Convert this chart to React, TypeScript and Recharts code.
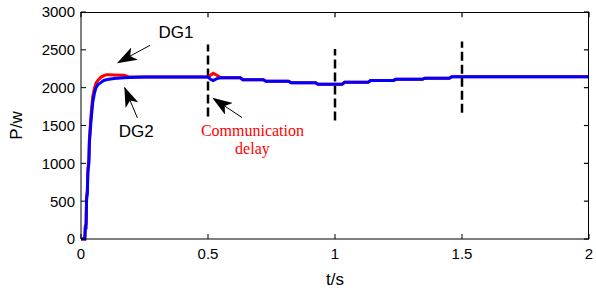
import React from 'react';
import { LineChart, Line, XAxis, YAxis, ReferenceLine, ReferenceDot } from 'recharts';

// time axis shared by both DG curves (s)
const time = [
  0, 0.015, 0.017, 0.02, 0.022, 0.025, 0.027, 0.031, 0.033, 0.039, 0.046, 0.053, 0.059, 0.067,
  0.079, 0.09, 0.1, 0.11, 0.13, 0.17, 0.19, 0.25, 0.5, 0.51, 0.52, 0.535, 0.55, 0.627, 0.637,
  0.718, 0.728, 0.817, 0.827, 0.923, 0.933, 1.028, 1.038, 1.13, 1.14, 1.23, 1.24, 1.344, 1.354,
  1.45, 1.46, 2,
];
const dg1 = [
  0, 0, 170, 200, 560, 650, 920, 1060, 1320, 1620, 1880, 1990, 2060, 2100,
  2140, 2160, 2170, 2170, 2168, 2165, 2140, 2140, 2140, 2165, 2190, 2165, 2130, 2130, 2105,
  2105, 2085, 2085, 2065, 2065, 2045, 2045, 2070, 2070, 2095, 2095, 2110, 2110, 2125,
  2125, 2145, 2145,
];
const dg2 = [
  0, 0, 150, 150, 520, 600, 875, 1000, 1270, 1540, 1800, 1930, 2000, 2040,
  2070, 2095, 2105, 2110, 2120, 2130, 2135, 2140, 2140, 2110, 2095, 2120, 2130, 2130, 2105,
  2105, 2085, 2085, 2065, 2065, 2045, 2045, 2070, 2070, 2095, 2095, 2110, 2110, 2125,
  2125, 2145, 2145,
];

const xTicks = [0, 0.5, 1, 1.5, 2];
const yTicks = [0, 500, 1000, 1500, 2000, 2500, 3000];
const xMax = 2;
const yMax = 3000;

// dashed markers: time, lower and upper power
const delayTimes = [0.5, 1, 1.5];
const delayLow = [1620, 1565, 1670];
const delayHigh = [2570, 2510, 2610];

// arrows: tail -> head, in (t, P)
const arrowTail = [[0.272, 2560], [0.222, 1600], [0.634, 1605]];
const arrowHead = [[0.145, 2330], [0.172, 2000], [0.52, 1860]];

const noteText = ['DG1', 'DG2', 'Communication', 'delay'];
const notePos = [[0.374, 2730], [0.217, 1420], [0.675, 1440], [0.675, 1200]];

const data = time.map((t, i) => ({ t, dg1: dg1[i], dg2: dg2[i] }));

const sans = 'Liberation Sans, Arial, sans-serif';
const serif = 'Liberation Serif, Times New Roman, serif';

const margin = { top: 12, right: 7, bottom: 22, left: 21 };
const yAxisWidth = 60;
const xAxisHeight = 30;
const W = 596;
const H = 291;

const BottomTick = (props: any) => {
  const { x, y, payload } = props;
  return (
    <g>
      <line x1={x} x2={x} y1={y} y2={y - 5} stroke="#000" />
      <text x={x} y={y + 20} textAnchor="middle" fontSize={15} fontFamily={sans} fill="#000">
        {payload.value}
      </text>
    </g>
  );
};

const LeftTick = (props: any) => {
  const { x, y, payload } = props;
  return (
    <g>
      <line x1={x} x2={x + 5} y1={y} y2={y} stroke="#000" />
      <text x={x - 6} y={y} dy="0.36em" textAnchor="end" fontSize={15} fontFamily={sans} fill="#000">
        {payload.value}
      </text>
    </g>
  );
};

export default function App() {
  // frame around the plot area (MATLAB box)
  const boxLeft = margin.left + yAxisWidth;
  const boxTop = margin.top;
  const boxW = W - margin.right - boxLeft;
  const boxH = H - margin.bottom - xAxisHeight - boxTop;
  return (
    <div style={{ position: 'absolute', left: 0, top: 0, width: W, height: H, background: '#fff' }}>
      <LineChart width={W} height={H} data={data} margin={margin}>
        <defs>
          <marker id="arrowHead" viewBox="0 0 20 14" refX="19" refY="7" markerWidth="20" markerHeight="14" markerUnits="userSpaceOnUse" orient="auto">
            <path d="M0,0 L20,7 L0,14 L5,7 z" fill="#000" />
          </marker>
        </defs>
        <XAxis
          dataKey="t"
          type="number"
          domain={[0, xMax]}
          ticks={xTicks}
          tickSize={0}
          tickMargin={0}
          tick={BottomTick}
          axisLine={{ stroke: '#000' }}
          height={xAxisHeight}
          label={({ viewBox }: any) => (
            <text x={viewBox.x + viewBox.width / 2} y={285} textAnchor="middle" fontSize={17} fontFamily={sans} fill="#000">
              t/s
            </text>
          )}
        />
        <YAxis
          type="number"
          domain={[0, yMax]}
          ticks={yTicks}
          tickSize={0}
          tickMargin={0}
          tick={LeftTick}
          axisLine={{ stroke: '#000' }}
          width={yAxisWidth}
          label={({ viewBox }: any) => {
            const cx = 16;
            const cy = viewBox.y + viewBox.height / 2;
            return (
              <text x={cx} y={cy} transform={`rotate(-90 ${cx} ${cy})`} textAnchor="middle" dominantBaseline="central" fontSize={17} fontFamily={sans} fill="#000">
                P/w
              </text>
            );
          }}
        />
        {xTicks.map((t) => (
          <ReferenceLine key={'tt' + t} segment={[{ x: t, y: yMax }, { x: t, y: yMax - 70 }]} stroke="#000" strokeWidth={1.2} ifOverflow="visible" />
        ))}
        {yTicks.map((p) => (
          <ReferenceLine key={'rt' + p} segment={[{ x: xMax, y: p }, { x: xMax - 0.02, y: p }]} stroke="#000" strokeWidth={1.2} ifOverflow="visible" />
        ))}
        {delayTimes.map((t, i) => (
          <ReferenceLine
            key={'d' + i}
            segment={[{ x: t, y: delayLow[i] }, { x: t, y: delayHigh[i] }]}
            stroke="#000"
            strokeWidth={2.5}
            strokeDasharray="9 4"
          />
        ))}
        <Line type="linear" dataKey="dg1" stroke="#ff0000" strokeWidth={3} dot={false} isAnimationActive={false} />
        <Line type="linear" dataKey="dg2" stroke="#0000ff" strokeWidth={3} dot={false} isAnimationActive={false} />
        {arrowTail.map((p, i) => (
          <ReferenceLine
            key={'a' + i}
            segment={[{ x: p[0], y: p[1] }, { x: arrowHead[i][0], y: arrowHead[i][1] }]}
            stroke="#000"
            strokeWidth={1}
            markerEnd="url(#arrowHead)"
          />
        ))}
        {noteText.map((txt, i) => (
          <ReferenceDot
            key={'n' + i}
            x={notePos[i][0]}
            y={notePos[i][1]}
            r={0}
            shape={(props: any) => (
              <text
                x={props.cx}
                y={props.cy}
                textAnchor="middle"
                dominantBaseline="central"
                fontSize={i < 2 ? 17 : 16}
                fontFamily={i < 2 ? sans : serif}
                fill={i < 2 ? '#000' : '#ff0000'}
              >
                {txt}
              </text>
            )}
          />
        ))}
      </LineChart>
      <div
        style={{
          position: 'absolute',
          left: boxLeft,
          top: boxTop,
          width: boxW,
          height: boxH,
          borderTop: '1px solid #000',
          borderRight: '1px solid #000',
          boxSizing: 'border-box',
          pointerEvents: 'none',
        }}
      />
    </div>
  );
}
